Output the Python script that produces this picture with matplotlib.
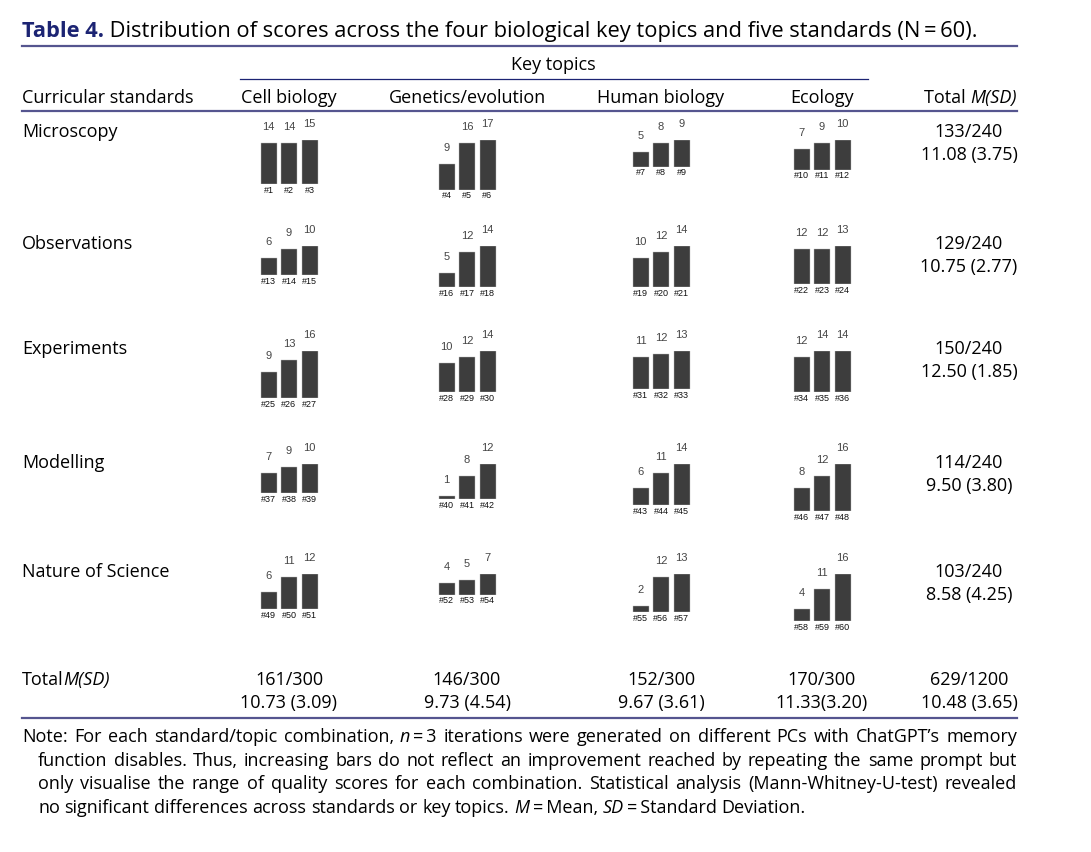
import matplotlib
matplotlib.use('Agg')
import matplotlib.pyplot as plt

W, H = 1091, 852

standards = ['Microscopy', 'Observations', 'Experiments', 'Modelling', 'Nature of Science']
topics = ['Cell biology', 'Genetics/evolution', 'Human biology', 'Ecology']

# three iterations per standard/topic combination
scores = [
    [[14, 14, 15], [9, 16, 17], [5, 8, 9], [7, 9, 10]],
    [[6, 9, 10], [5, 12, 14], [10, 12, 14], [12, 12, 13]],
    [[9, 13, 16], [10, 12, 14], [11, 12, 13], [12, 14, 14]],
    [[7, 9, 10], [1, 8, 12], [6, 11, 14], [8, 12, 16]],
    [[6, 11, 12], [4, 5, 7], [2, 12, 13], [4, 11, 16]],
]

row_totals = [('133/240', '11.08 (3.75)'), ('129/240', '10.75 (2.77)'),
              ('150/240', '12.50 (1.85)'), ('114/240', '9.50 (3.80)'),
              ('103/240', '8.58 (4.25)')]
col_totals = [('161/300', '10.73 (3.09)'), ('146/300', '9.73 (4.54)'),
              ('152/300', '9.67 (3.61)'), ('170/300', '11.33(3.20)')]
grand_total = ('629/1200', '10.48 (3.65)')

FONT = 'Open Sans'
BARFONT = 'Liberation Sans'
NAVY = '#1c2473'
RULE = '#55558f'
FS = 13

fig = plt.figure(figsize=(W / 100, H / 100), dpi=100)
bg = fig.add_axes([0, 0, 1, 1])
bg.set_xlim(0, W)
bg.set_ylim(H, 0)
bg.axis('off')
renderer = fig.canvas.get_renderer()


def txt(x, y, s, **kw):
    kw.setdefault('fontsize', FS)
    kw.setdefault('family', FONT)
    kw.setdefault('va', 'baseline')
    return bg.text(x, y, s, **kw)


def width(t):
    return t.get_window_extent(renderer).width


def space_w(size=FS):
    a = txt(0, -100, 'x x', fontsize=size)
    b = txt(0, -100, 'xx', fontsize=size)
    w = width(a) - width(b)
    a.remove()
    b.remove()
    return w


def runs(x, y, pieces, right=None, size=FS):
    # pieces: list of (text, style); words laid out one by one,
    # a piece glued to the one before it (no space between) sticks to that word
    words = []
    prev_space = True
    for s, st in pieces:
        parts = s.split(' ')
        for k, w in enumerate(parts):
            if not w:
                continue
            attach = (k == 0 and not prev_space and len(words) > 0)
            words.append((w, st, attach))
        prev_space = s.endswith(' ')
    arts = [txt(x, y, w, style=st, fontsize=size) for w, st, _ in words]
    ws = [width(a) for a in arts]
    ngaps = sum(1 for w in words[1:] if not w[2])
    if right is not None and ngaps > 0:
        gap = (right - x - sum(ws)) / ngaps
    else:
        gap = space_w(size)
    cx = x
    for k, (a, w) in enumerate(zip(arts, ws)):
        if k > 0 and not words[k][2]:
            cx += gap
        a.set_x(cx)
        cx += w
    return arts


L, R = 22, 1017

# title
t1 = txt(L, 37, 'Table 4.', fontsize=15.75, weight='bold', color=NAVY)
bg.annotate(' Distribution of scores across the four biological key topics and five standards (N\u2009=\u200960).',
            xy=(1, 0), xycoords=t1, va='bottom', ha='left', fontsize=15.75, family=FONT)
bg.plot([L, R], [45.5, 45.5], color=RULE, lw=1.6)

# header
txt(553, 70, 'Key topics', ha='center')
bg.plot([240, 868], [79, 79], color=NAVY, lw=0.9)
txt(L, 103, 'Curricular standards')
centers = [289, 467, 661, 822]
for cx, name in zip(centers, topics):
    txt(cx, 103, name, ha='center')
h2 = txt(R, 103, 'M(SD)', ha='right', style='italic')
bg.annotate('Total ', xy=(0, 0), xycoords=h2, va='bottom', ha='right', fontsize=FS, family=FONT)
bg.plot([L, R], [111, 111], color=RULE, lw=1.6)

# rows with mini bar charts
row_base = [137, 249, 354, 468, 577]
row_top = [140, 246, 351, 464, 574]
scale = 2.95
pitch = 20.5
for r, std in enumerate(standards):
    txt(L, row_base[r], std)
    txt(969, row_base[r], row_totals[r][0], ha='center')
    txt(969, row_base[r] + 23, row_totals[r][1], ha='center')
    for t in range(4):
        vals = scores[r][t]
        m = max(vals)
        hpx = m * scale
        ax = fig.add_axes([(centers[t] - 1.5 * pitch) / W, 1 - (row_top[r] + hpx) / H,
                           3 * pitch / W, hpx / H])
        ax.set_xlim(-0.5, 2.5)
        ax.set_ylim(0, m)
        ax.axis('off')
        ax.bar(range(3), vals, width=16 / pitch, color='#3d3d3d', edgecolor='#bbbbbb', lw=0.3)
        for i, v in enumerate(vals):
            ax.annotate(str(v), (i, v), xytext=(0, 11.5), textcoords='offset points',
                        ha='center', va='center', fontsize=8, family=BARFONT,
                        color='#454545', annotation_clip=False)
            ax.annotate('#%d' % (12 * r + 3 * t + i + 1), (i, 0), xytext=(0, -4.2),
                        textcoords='offset points', ha='center', va='center',
                        fontsize=6.5, family=BARFONT, color='#111111',
                        annotation_clip=False)

# totals row
t3 = txt(L, 685, 'Total')
bg.annotate('M(SD)', xy=(1, 0), xycoords=t3, va='bottom', ha='left', fontsize=FS,
            family=FONT, style='italic')
for cx, (a, b) in zip(centers, col_totals):
    txt(cx, 685, a, ha='center')
    txt(cx, 708, b, ha='center')
txt(969, 685, grand_total[0], ha='center')
txt(969, 708, grand_total[1], ha='center')
bg.plot([L, R], [718, 718], color=RULE, lw=1.6)

# note
runs(L, 742, [('Note: For each standard/topic combination, ', 'normal'), ('n', 'italic'),
              ('\u2009=\u20093 iterations were generated on different PCs with ChatGPT\u2019s memory', 'normal')], right=R)
runs(38, 766, [('function disables. Thus, increasing bars do not reflect an improvement reached by repeating the same prompt but', 'normal')], right=R)
runs(38, 789, [('only visualise the range of quality scores for each combination. Statistical analysis (Mann-Whitney-U-test) revealed', 'normal')], right=R)
runs(38, 813, [('no significant differences across standards or key topics. ', 'normal'), ('M', 'italic'),
               ('\u2009=\u2009Mean, ', 'normal'), ('SD', 'italic'), ('\u2009=\u2009Standard Deviation.', 'normal')])

fig.savefig('out.png', dpi=100)
